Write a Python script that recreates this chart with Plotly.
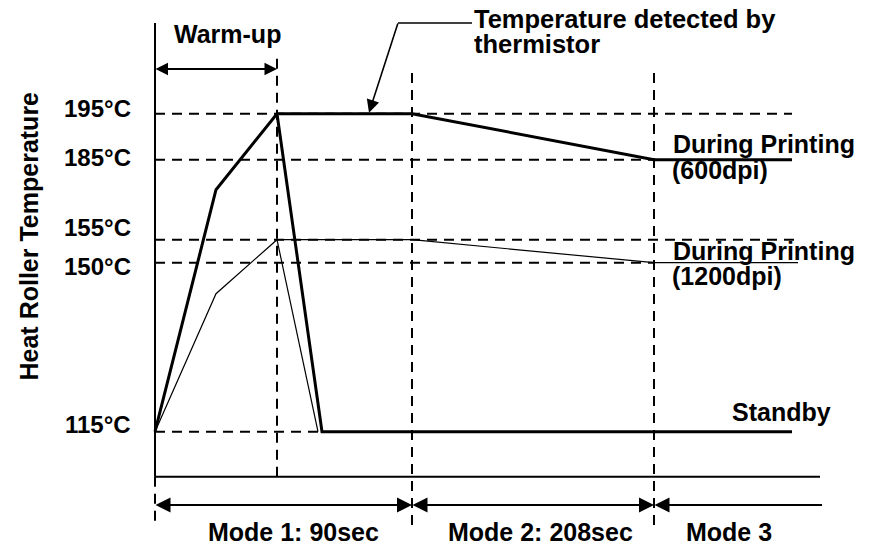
import plotly.graph_objects as go

# ---------------- data (schematic diagram) ----------------
temps = [115, 150, 155, 185, 195]
temp_labels = ["115°C", "150°C", "155°C", "185°C", "195°C"]
levels = [0, 169, 192, 272, 318]          # schematic vertical position of each temperature
lvl = dict(zip(temps, levels))

# schematic time positions
t_start = 0
t_knee = 61
t_warm = 122          # end of warm-up
t_standby = 167       # thick curve reaches standby
t_standby_thin = 163  # thin curve reaches standby
t_mode1 = 257         # end of Mode 1 (90 sec)
t_mode2 = 499         # end of Mode 2 (208 sec)
t_end = 637
t_end_thin = 643
t_axis_end = 665

# heat roller temperature curves
x_600 = [t_start, t_knee, t_warm, t_mode1, t_mode2, t_end]
y_600 = [lvl[115], 242, lvl[195], lvl[195], lvl[185], lvl[185]]
x_1200 = [t_start, t_knee, t_warm, t_mode1, t_mode2, t_end_thin]
y_1200 = [lvl[115], 138, lvl[155], lvl[155], lvl[150], lvl[150]]
x_standby = [t_warm, t_standby, t_end]
y_standby = [lvl[195], lvl[115], lvl[115]]
x_drop_thin = [t_warm, t_standby_thin]
y_drop_thin = [lvl[155], lvl[115]]

# reference (dashed) temperature lines: temperature -> end time
ref_ends = {195: t_end, 185: t_mode2, 155: t_end_thin, 150: t_mode2, 115: t_standby}

mode_labels = ["Mode 1: 90sec", "Mode 2: 208sec", "Mode 3"]

# ---------------- figure ----------------
X0, Y0 = 155, 431.7   # pixel position of the origin (for text placement)


def px(p):
    return p - X0


def py(p):
    return Y0 - p


axis_y = py(476.7)
FONT = "Liberation Sans"
DASH = "10px,7px"

fig = go.Figure()

fig.add_trace(go.Scatter(x=x_600, y=y_600, mode="lines",
                         line=dict(color="black", width=3), hoverinfo="skip"))
fig.add_trace(go.Scatter(x=x_standby, y=y_standby, mode="lines",
                         line=dict(color="black", width=3), hoverinfo="skip"))
fig.add_trace(go.Scatter(x=x_1200, y=y_1200, mode="lines",
                         line=dict(color="black", width=1.2), hoverinfo="skip"))
fig.add_trace(go.Scatter(x=x_drop_thin, y=y_drop_thin, mode="lines",
                         line=dict(color="black", width=1.2), hoverinfo="skip"))

shapes = []
# axes
shapes.append(dict(type="line", x0=t_start, x1=t_start, y0=axis_y, y1=py(23),
                   line=dict(color="black", width=2)))
shapes.append(dict(type="line", x0=t_start, x1=t_axis_end, y0=axis_y, y1=axis_y,
                   line=dict(color="black", width=2)))
# dashed temperature lines
for t in temps:
    shapes.append(dict(type="line", layer="below", x0=t_start, x1=ref_ends[t],
                       y0=lvl[t], y1=lvl[t], line=dict(color="black", width=2, dash=DASH)))
# dashed time lines
shapes.append(dict(type="line", layer="below", x0=t_warm, x1=t_warm, y0=axis_y, y1=py(53),
                   line=dict(color="black", width=2, dash=DASH)))
for t in [t_mode1, t_mode2]:
    shapes.append(dict(type="line", layer="below", x0=t, x1=t, y0=py(525), y1=py(67),
                       line=dict(color="black", width=2, dash=DASH)))
shapes.append(dict(type="line", layer="below", x0=t_start, x1=t_start, y0=axis_y, y1=py(521),
                   line=dict(color="black", width=2, dash=DASH)))
# callout horizontal leader
shapes.append(dict(type="line", x0=px(398), x1=px(472), y0=py(23), y1=py(23),
                   line=dict(color="black", width=1.6)))


def arrow(x_from, y_from, x_to, y_to, side, size, width=2):
    return dict(x=x_to, y=y_to, ax=x_from, ay=y_from, xref="x", yref="y",
                axref="x", ayref="y", text="", showarrow=True,
                arrowhead=2, startarrowhead=2, arrowsize=size, startarrowsize=size,
                arrowwidth=width, arrowcolor="black", arrowside=side,
                standoff=0, startstandoff=0, font=dict(size=1), borderpad=0)


def txt(s, x, y, xanchor="left", size=25, angle=0):
    return dict(text="<b>" + s + "</b>", x=x, y=y, xref="x", yref="y",
                xanchor=xanchor, yanchor="middle", showarrow=False, textangle=angle,
                font=dict(family=FONT, size=size, color="black"))


annotations = []
warm_y = py(69)
annotations.append(arrow(t_start, warm_y, t_warm, warm_y, "end+start", 1.25))
mode_y = py(505)
annotations.append(arrow(t_start, mode_y, t_mode1, mode_y, "end+start", 1.5))
annotations.append(arrow(t_mode1, mode_y, t_mode2, mode_y, "end+start", 1.5))
annotations.append(arrow(t_mode2, mode_y, px(822), mode_y, "start", 1.5))
# callout arrow to the detected temperature
annotations.append(arrow(px(398), py(23), px(369), lvl[195] + 1, "end", 1.6, 1.6))

# temperature labels
cap_centres = {195: 108.3, 185: 157.7, 155: 227, 150: 266, 115: 424.5}
for t, lab in zip(temps, temp_labels):
    annotations.append(txt(lab, px(133), py(cap_centres[t]), "right", 24))

annotations.append(txt("Heat Roller Temperature", px(28), py(236.5), "center", 25, -90))
annotations.append(txt("Warm-up", px(227), py(34), "center"))
annotations.append(txt("Temperature detected by", px(472), py(19), size=25.5))
annotations.append(txt("thermistor", px(472), py(44), size=25.5))
annotations.append(txt("During Printing", px(671), py(144)))
annotations.append(txt("(600dpi)", px(670), py(170)))
annotations.append(txt("During Printing", px(671), py(251)))
annotations.append(txt("(1200dpi)", px(670), py(276)))
annotations.append(txt("Standby", px(730), py(412)))
mode_centres = [(t_start + t_mode1) / 2 + 10, (t_mode1 + t_mode2) / 2 + 7, px(729)]
for lab, xc in zip(mode_labels, mode_centres):
    annotations.append(txt(lab, xc, py(532), "center"))

fig.update_layout(
    width=869, height=545,
    margin=dict(l=0, r=0, t=0, b=0),
    paper_bgcolor="white", plot_bgcolor="white",
    showlegend=False,
    xaxis=dict(range=[-X0, 869 - X0], visible=False, fixedrange=True),
    yaxis=dict(range=[Y0 - 545, Y0], visible=False, fixedrange=True),
    shapes=shapes,
    annotations=annotations,
)

fig.write_html("out.html", config={"displayModeBar": False},
               post_script="document.body.style.margin='0';document.body.style.overflow='hidden';")
